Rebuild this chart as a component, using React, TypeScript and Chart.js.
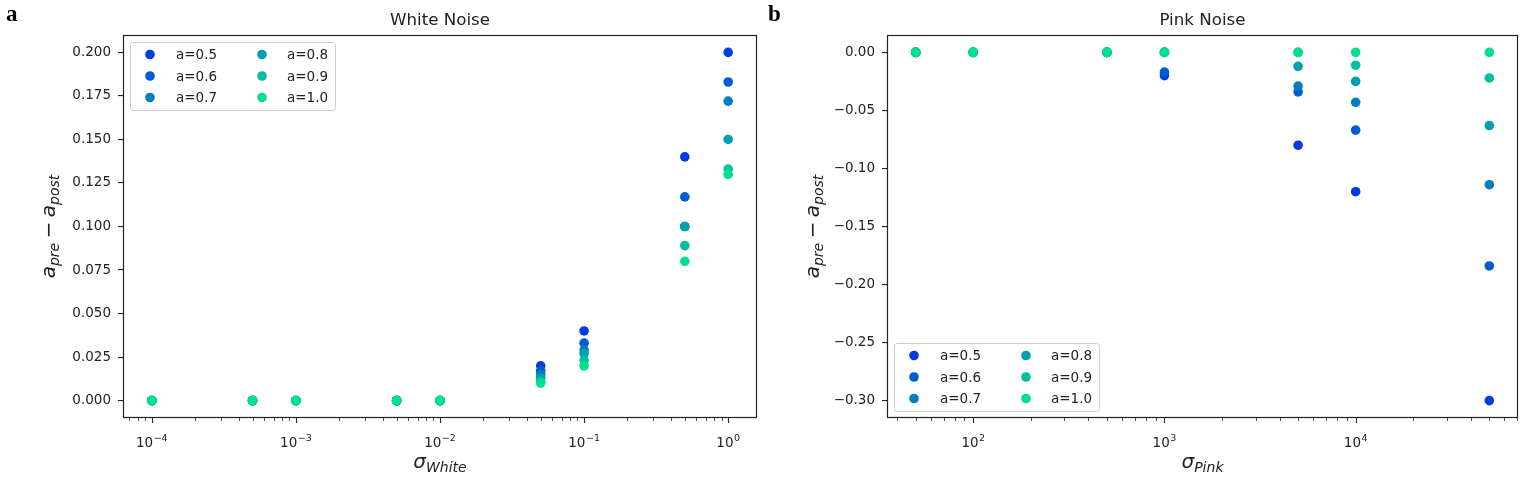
import { useEffect, useRef } from "react";
import { Chart, registerables } from "chart.js";

Chart.register(...registerables);

const seriesLabels = ["a=0.5", "a=0.6", "a=0.7", "a=0.8", "a=0.9", "a=1.0"];
const seriesColors = ["#003CE1", "#005DD1", "#007EC0", "#009FB0", "#00C09F", "#00E08F"];

// panel a: white noise
const whiteSigma = [0.0001, 0.0005, 0.001, 0.005, 0.01, 0.05, 0.1, 0.5, 1];
const whiteA05 = [0, 0, 0, 0, 0, 0.02, 0.04, 0.14, 0.2];
const whiteA06 = [0, 0, 0, 0, 0, 0.017, 0.033, 0.117, 0.183];
const whiteA07 = [0, 0, 0, 0, 0, 0.015, 0.029, 0.1, 0.172];
const whiteA08 = [0, 0, 0, 0, 0, 0.013, 0.027, 0.1, 0.15];
const whiteA09 = [0, 0, 0, 0, 0, 0.011, 0.023, 0.089, 0.133];
const whiteA10 = [0, 0, 0, 0, 0, 0.01, 0.02, 0.08, 0.13];
const whiteYTicks = [0, 0.025, 0.05, 0.075, 0.1, 0.125, 0.15, 0.175, 0.2];
const whiteYLabels = ["0.000", "0.025", "0.050", "0.075", "0.100", "0.125", "0.150", "0.175", "0.200"];
const whiteXTicks = [0.0001, 0.001, 0.01, 0.1, 1];
const whiteXExponents = ["−4", "−3", "−2", "−1", "0"];

// panel b: pink noise
const pinkSigma = [50, 100, 500, 1000, 5000, 10000, 50000];
const pinkA05 = [0, 0, 0, -0.02, -0.08, -0.12, -0.3];
const pinkA06 = [0, 0, 0, -0.017, -0.034, -0.067, -0.184];
const pinkA07 = [0, 0, 0, 0, -0.029, -0.043, -0.114];
const pinkA08 = [0, 0, 0, 0, -0.012, -0.025, -0.063];
const pinkA09 = [0, 0, 0, 0, 0, -0.011, -0.022];
const pinkA10 = [0, 0, 0, 0, 0, 0, 0];
const pinkYTicks = [0, -0.05, -0.1, -0.15, -0.2, -0.25, -0.3];
const pinkYLabels = ["0.00", "−0.05", "−0.10", "−0.15", "−0.20", "−0.25", "−0.30"];
const pinkXTicks = [100, 1000, 10000];
const pinkXExponents = ["2", "3", "4"];

const FONT = '"DejaVu Sans"';
const INK = "#222";

type MathPart = { t: string; size: number; italic: boolean; dy?: number; gap?: number };

interface PanelSpec {
  letter: string;
  title: string;
  left: number;
  width: number;
  padRight: number;
  yAxisWidth: number;
  yLabelX: number;
  legendAtTop: boolean;
  xSub: string;
  sigma: number[];
  series: number[][];
  xMin: number;
  xMax: number;
  yMin: number;
  yMax: number;
  xTicks: number[];
  xExponents: string[];
  yTicks: number[];
  yLabels: string[];
}

function drawMath(ctx: CanvasRenderingContext2D, parts: MathPart[], cx: number, baseline: number) {
  let total = 0;
  const widths = parts.map((p) => {
    ctx.font = `${p.italic ? "italic " : ""}${p.size}px ${FONT}`;
    const w = ctx.measureText(p.t).width;
    total += w + (p.gap || 0);
    return w;
  });
  let x = cx - total / 2;
  ctx.textAlign = "left";
  ctx.textBaseline = "alphabetic";
  parts.forEach((p, i) => {
    x += p.gap || 0;
    ctx.font = `${p.italic ? "italic " : ""}${p.size}px ${FONT}`;
    ctx.fillText(p.t, x, baseline + (p.dy || 0));
    x += widths[i];
  });
}

function isDecade(v: number) {
  const l = Math.log10(v);
  return Math.abs(l - Math.round(l)) < 1e-6;
}

function logTickValues(majors: number[], min: number, max: number) {
  const out: number[] = [];
  [majors[0] / 10, ...majors].forEach((m) => {
    for (let k = 1; k <= 9; k++) {
      const v = k * m;
      if (v >= min && v <= max) out.push(v);
    }
  });
  return out;
}

function decorPlugin(spec: PanelSpec) {
  return {
    id: "decor",
    afterDraw(chart: Chart) {
      const { ctx, chartArea: a } = chart;
      const xScale = chart.scales.x;
      ctx.save();

      // axes frame
      ctx.strokeStyle = INK;
      ctx.lineWidth = 1.2;
      ctx.strokeRect(Math.round(a.left) + 0.5, Math.round(a.top) + 0.5, Math.round(a.right - a.left) - 1, Math.round(a.bottom - a.top) - 1);

      // x tick marks, major and minor
      xScale.ticks.forEach((t) => {
        const px = Math.round(xScale.getPixelForValue(t.value)) + 0.5;
        const major = isDecade(t.value);
        ctx.lineWidth = major ? 1.1 : 0.8;
        ctx.beginPath();
        ctx.moveTo(px, a.bottom);
        ctx.lineTo(px, a.bottom + (major ? 5 : 3));
        ctx.stroke();
      });

      ctx.fillStyle = INK;
      // x tick labels as 10 with a raised exponent
      ctx.textAlign = "left";
      ctx.textBaseline = "alphabetic";
      spec.xTicks.forEach((v, i) => {
        const px = xScale.getPixelForValue(v);
        ctx.font = `13.5px ${FONT}`;
        const w1 = ctx.measureText("10").width;
        ctx.font = `9.5px ${FONT}`;
        const w2 = ctx.measureText(spec.xExponents[i]).width;
        const x0 = px - (w1 + w2 + 0.5) / 2;
        ctx.font = `13.5px ${FONT}`;
        ctx.fillText("10", x0, 447);
        ctx.font = `9.5px ${FONT}`;
        ctx.fillText(spec.xExponents[i], x0 + w1 + 0.5, 440.5);
      });

      // title
      ctx.font = `16.7px ${FONT}`;
      ctx.textAlign = "center";
      ctx.fillText(spec.title, (a.left + a.right) / 2, 25);

      // panel letter
      ctx.fillStyle = "#000";
      ctx.font = 'bold 23px "Liberation Serif"';
      ctx.textAlign = "left";
      ctx.fillText(spec.letter, spec.left === 0 ? 6 : 1, 21);

      ctx.fillStyle = INK;
      // x axis label
      drawMath(ctx, [
        { t: "σ", size: 20, italic: true },
        { t: spec.xSub, size: 14, italic: true, dy: 3.5 },
      ], (a.left + a.right) / 2, 468);

      // y axis label
      ctx.save();
      ctx.translate(spec.yLabelX, (a.top + a.bottom) / 2);
      ctx.rotate(-Math.PI / 2);
      drawMath(ctx, [
        { t: "a", size: 20, italic: true },
        { t: "pre", size: 14, italic: true, dy: 4 },
        { t: "−", size: 20, italic: false, gap: 4.4 },
        { t: "a", size: 20, italic: true, gap: 4.4 },
        { t: "post", size: 14, italic: true, dy: 4 },
      ], 0, 0);
      ctx.restore();

      // legend, two columns
      const bw = 205;
      const bh = 68;
      const bx = a.left + 7;
      const by = spec.legendAtTop ? a.top + 7 : a.bottom - 7 - bh;
      ctx.beginPath();
      ctx.roundRect(bx + 0.5, by + 0.5, bw, bh, 3);
      ctx.fillStyle = "rgba(255,255,255,0.8)";
      ctx.fill();
      ctx.strokeStyle = "#cccccc";
      ctx.lineWidth = 1;
      ctx.stroke();
      ctx.font = `13.5px ${FONT}`;
      ctx.textBaseline = "middle";
      ctx.textAlign = "left";
      chart.data.datasets.forEach((ds, i) => {
        const col = Math.floor(i / 3);
        const row = i % 3;
        const cy = by + 12.5 + row * 21.5;
        ctx.beginPath();
        ctx.arc(bx + 20 + col * 112, cy, 4.8, 0, Math.PI * 2);
        ctx.fillStyle = seriesColors[i];
        ctx.fill();
        ctx.fillStyle = INK;
        ctx.fillText(String(ds.label), bx + 46 + col * 111, cy + 1);
      });

      ctx.restore();
    },
  };
}

function buildConfig(spec: PanelSpec): any {
  const xValues = logTickValues(spec.xTicks, spec.xMin, spec.xMax);
  return {
    type: "scatter",
    data: {
      datasets: spec.series.map((vals, i) => ({
        label: seriesLabels[i],
        data: spec.sigma.map((x, j) => ({ x, y: vals[j] })),
        backgroundColor: seriesColors[i],
        pointBackgroundColor: seriesColors[i],
        pointBorderWidth: 0,
        pointRadius: 4.8,
        showLine: false,
        order: spec.series.length - i,
      })),
    },
    options: {
      responsive: false,
      animation: false,
      layout: { padding: { left: 0, top: 35, right: spec.padRight, bottom: 0 } },
      plugins: { legend: { display: false }, tooltip: { enabled: false } },
      scales: {
        x: {
          type: "logarithmic",
          min: spec.xMin,
          max: spec.xMax,
          bounds: "data",
          grid: { display: false, drawTicks: false },
          border: { display: false },
          ticks: { display: false, autoSkip: false, maxRotation: 0, minRotation: 0 },
          afterBuildTicks: (s: any) => {
            s.ticks = xValues.map((v) => ({ value: v, major: isDecade(v) }));
          },
          afterFit: (s: any) => {
            s.height = 62;
          },
        },
        y: {
          type: "linear",
          min: spec.yMin,
          max: spec.yMax,
          bounds: "data",
          grid: { display: true, drawOnChartArea: false, drawTicks: true, tickLength: 5, color: INK, lineWidth: 1.1 },
          border: { display: false },
          ticks: {
            padding: 7,
            color: INK,
            font: { family: "DejaVu Sans", size: 13.5 },
            callback: (_v: number, i: number) => spec.yLabels[i],
          },
          afterBuildTicks: (s: any) => {
            s.ticks = spec.yTicks.map((v) => ({ value: v }));
          },
          afterFit: (s: any) => {
            s.width = spec.yAxisWidth;
          },
        },
      },
    },
    plugins: [decorPlugin(spec)],
  };
}

const whitePanel: PanelSpec = {
  letter: "a",
  title: "White Noise",
  left: 0,
  width: 767,
  padRight: 10,
  yAxisWidth: 123,
  yLabelX: 55,
  legendAtTop: true,
  xSub: "White",
  sigma: whiteSigma,
  series: [whiteA05, whiteA06, whiteA07, whiteA08, whiteA09, whiteA10],
  xMin: Math.pow(10, -4.2),
  xMax: Math.pow(10, 0.2),
  yMin: -0.01,
  yMax: 0.21,
  xTicks: whiteXTicks,
  xExponents: whiteXExponents,
  yTicks: whiteYTicks,
  yLabels: whiteYLabels,
};

const pinkPanel: PanelSpec = {
  letter: "b",
  title: "Pink Noise",
  left: 767,
  width: 768,
  padRight: 17,
  yAxisWidth: 120,
  yLabelX: 52,
  legendAtTop: false,
  xSub: "Pink",
  sigma: pinkSigma,
  series: [pinkA05, pinkA06, pinkA07, pinkA08, pinkA09, pinkA10],
  xMin: Math.pow(10, Math.log10(50) - 0.15),
  xMax: Math.pow(10, Math.log10(50000) + 0.15),
  yMin: -0.315,
  yMax: 0.015,
  xTicks: pinkXTicks,
  xExponents: pinkXExponents,
  yTicks: pinkYTicks,
  yLabels: pinkYLabels,
};

function Panel({ spec }: { spec: PanelSpec }) {
  const canvasRef = useRef<HTMLCanvasElement | null>(null);

  useEffect(() => {
    const canvas = canvasRef.current;
    if (!canvas) return;
    const chart = new Chart(canvas, buildConfig(spec));
    return () => {
      chart.destroy();
    };
  }, [spec]);

  return (
    <div style={{ position: "absolute", left: spec.left, top: 0, width: spec.width, height: 480 }}>
      <canvas ref={canvasRef} width={spec.width} height={480} style={{ display: "block" }}></canvas>
    </div>
  );
}

export default function App() {
  return (
    <div style={{ position: "fixed", left: 0, top: 0, width: 1535, height: 480, background: "#fff" }}>
      <Panel spec={whitePanel} />
      <Panel spec={pinkPanel} />
    </div>
  );
}
